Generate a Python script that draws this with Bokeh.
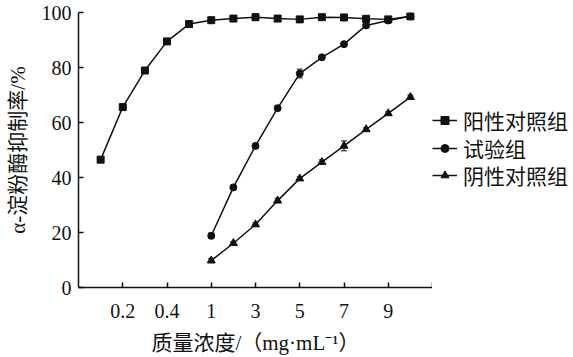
from bokeh.plotting import figure
from bokeh.layouts import row
from bokeh.models import (ColumnDataSource, FixedTicker, Legend, LegendItem,
                          Whisker, TeeHead, Range1d)
from bokeh.embed import file_html
from bokeh.resources import INLINE

# ---- data ----
conc_labels = ["0.1", "0.2", "0.3", "0.4", "0.5", "1", "2", "3", "4", "5",
               "6", "7", "8", "9", "10"]
positive = [46.5, 65.6, 78.9, 89.5, 95.8, 97.2, 97.8, 98.3, 97.8, 97.5,
            98.3, 98.2, 97.7, 97.5, 98.6]
positive_err = [0.6, 0.6, 0.6, 0.6, 0.6, 0.6, 0.6, 1.0, 0.6, 0.7,
                0.6, 0.6, 0.6, 0.6, 0.6]
test_conc = ["1", "2", "3", "4", "5", "6", "7", "8", "9", "10"]
test = [18.8, 36.4, 51.5, 65.2, 77.8, 83.7, 88.5, 95.3, 97.1, 98.6]
test_err = [1.0, 0.8, 0.8, 0.8, 1.6, 0.8, 0.7, 0.8, 0.8, 0.6]
negative = [9.8, 16.1, 22.9, 31.6, 39.6, 45.6, 51.5, 57.5, 63.3, 69.2]
negative_err = [0.8, 0.6, 0.6, 0.8, 0.6, 0.8, 1.8, 0.6, 0.6, 0.8]
tick_labels = ["0.2", "0.4", "1", "3", "5", "7", "9"]
y_ticks = [0, 20, 40, 60, 80, 100]
series_names = ["阳性对照组", "试验组", "阴性对照组"]

x_end = len(conc_labels) + 1


def pos(c):
    return conc_labels.index(c) + 1


def make_src(xs, ys, errs):
    return ColumnDataSource(dict(
        x=xs, y=ys,
        upper=[a + b for a, b in zip(ys, errs)],
        lower=[a - b for a, b in zip(ys, errs)]))


src_p = make_src([pos(c) for c in conc_labels], positive, positive_err)
src_t = make_src([pos(c) for c in test_conc], test, test_err)
src_n = make_src([pos(c) for c in test_conc], negative, negative_err)

SERIF = "Liberation Serif, Noto Sans CJK SC"
INK = "#111111"
TOTAL_W, H = 572, 357
LEFT, FRAME_W = 78, 354
TOP, BOTTOM = 12, 70
MAIN_W = LEFT + FRAME_W
LEG_W = TOTAL_W - MAIN_W

p = figure(width=MAIN_W, height=H, output_backend="svg", toolbar_location=None,
           x_range=Range1d(0, x_end), y_range=Range1d(0, 100),
           min_border=0, min_border_left=LEFT, min_border_right=0,
           min_border_top=TOP, min_border_bottom=BOTTOM)
p.outline_line_color = None
p.xgrid.visible = False
p.ygrid.visible = False
p.background_fill_color = "white"
p.border_fill_color = "white"

for ax in (p.xaxis[0], p.yaxis[0]):
    ax.axis_line_color = INK
    ax.axis_line_width = 1.5
    ax.major_tick_line_color = INK
    ax.major_tick_line_width = 1.5
    ax.major_tick_in = 5
    ax.major_tick_out = 0
    ax.minor_tick_line_color = None
    ax.major_label_text_font = SERIF
    ax.major_label_text_font_size = "20px"
    ax.major_label_text_color = INK
    ax.axis_label_text_font = SERIF
    ax.axis_label_text_font_size = "21px"
    ax.axis_label_text_font_style = "normal"
    ax.axis_label_text_color = INK

xt = [pos(t) for t in tick_labels] + [x_end]
p.xaxis.ticker = FixedTicker(ticks=xt)
overrides = {pos(t): t for t in tick_labels}
overrides[x_end] = ""
p.xaxis.major_label_overrides = overrides
p.xaxis.major_label_standoff = 16
p.xaxis.axis_label = "质量浓度/（mg·mL⁻¹）"
p.xaxis.axis_label_standoff = 10

p.yaxis.ticker = FixedTicker(ticks=y_ticks)
p.yaxis.major_label_standoff = 7
p.yaxis.axis_label = "α-淀粉酶抑制率/%"
p.yaxis.axis_label_standoff = 9

# legend-only companion figure
lf = figure(width=LEG_W, height=H, output_backend="svg", toolbar_location=None,
            x_range=Range1d(0, 1), y_range=Range1d(0, 1),
            min_border=0, min_border_left=0, min_border_right=0,
            min_border_top=TOP, min_border_bottom=BOTTOM)
lf.axis.visible = False
lf.grid.visible = False
lf.outline_line_color = None
lf.background_fill_color = "white"
lf.border_fill_color = "white"

styles = [(src_p, "square", 7, 6), (src_t, "circle", 7, 5),
          (src_n, "triangle", 8, 7)]
legend_offsets = [152, 124, 97]   # legend rows, px above the frame bottom
for (src, marker, size, lsize), name, off in zip(styles, series_names,
                                                 legend_offsets):
    p.add_layout(Whisker(source=src, base="x", upper="upper", lower="lower",
                         line_color=INK, line_width=1,
                         upper_head=TeeHead(size=6, line_color=INK, line_width=1),
                         lower_head=TeeHead(size=6, line_color=INK, line_width=1)))
    p.line("x", "y", source=src, line_color=INK, line_width=1.5)
    p.scatter("x", "y", source=src, marker=marker, size=size,
              fill_color=INK, line_color=INK)
    dummy = ColumnDataSource(dict(x=[float("nan")], y=[float("nan")]))
    l2 = lf.line("x", "y", source=dummy, line_color=INK, line_width=1.5)
    s2 = lf.scatter("x", "y", source=dummy, marker=marker, size=lsize,
                    fill_color=INK, line_color=INK)
    lg = Legend(items=[LegendItem(label=name, renderers=[l2, s2])],
                location=(0, off), label_text_font=SERIF,
                label_text_font_size="21px", label_text_color=INK,
                glyph_width=25, glyph_height=20, label_height=20,
                label_standoff=6, spacing=0, padding=0, margin=0,
                border_line_alpha=0, background_fill_alpha=0)
    lf.add_layout(lg)

layout = row(p, lf, spacing=0)
open("out.html", "w").write(file_html(layout, INLINE))
